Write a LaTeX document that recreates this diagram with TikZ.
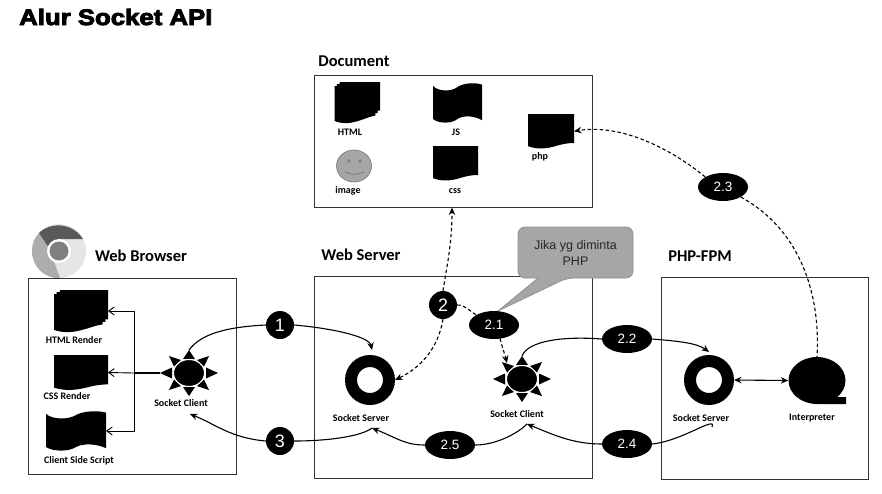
\documentclass[tikz,border=0pt]{standalone}
\usepackage{fontspec}
\setmainfont{Carlito}
\newfontfamily\titlef[FakeBold=4,FakeStretch=1.15]{Liberation Sans Bold}
\newfontfamily\ovalf{Liberation Sans}
\usetikzlibrary{shapes.geometric,arrows.meta,calc}
\definecolor{framec}{HTML}{333333}
\definecolor{calloutc}{HTML}{A6A6A6}
\definecolor{calloutb}{HTML}{8E8E8E}
\tikzset{
  framebox/.style={draw=framec,line width=1pt,fill=none},
  heading/.style={font=\fontsize{16.5}{18}\selectfont\bfseries,inner sep=0pt},
  iconlabel/.style={font=\fontsize{10}{11}\selectfont\bfseries,inner sep=0pt},
  badge/.style={circle,fill=black,text=white,minimum size=28pt,inner sep=0pt,font=\ovalf\fontsize{18}{20}\selectfont},
  oval/.style={ellipse,fill=black,text=white,minimum width=50pt,minimum height=28pt,inner sep=0pt,font=\ovalf\fontsize{13.5}{15}\selectfont},
  donut/.style={circle,draw=black,line width=12pt,fill=white,minimum size=38pt,inner sep=0pt},
  iconnode/.style={inner sep=0pt,outer sep=0pt},
  flow/.style={line width=1.1pt,-{Stealth[length=7.5pt,width=6.5pt]}},
  plainflow/.style={line width=1.1pt},
  dashflow/.style={line width=1.1pt,dash pattern=on 3.5pt off 2.5pt,-{Stealth[length=7.5pt,width=6.5pt]}},
  dashplain/.style={line width=1.1pt,dash pattern=on 3.5pt off 2.5pt},
  openflow/.style={line width=.9pt,-{Straight Barb[length=5.5pt,width=8pt]}},
}
% icon outlines, in a unit box
\newcommand{\docpath}{(0,0) -- (1,0) -- (1,.84) .. controls (.85,.84) and (.72,.88) .. (.6,.93) .. controls (.42,1) and (.2,1.04) .. (0,.93) -- cycle}
\newcommand{\stackpath}{(0,.1) -- (.05,.1) -- (.05,.05) -- (.11,.05) -- (.11,0) -- (1,0) -- (1,.7) -- (.95,.7) -- (.95,.76) -- (.9,.76) -- (.9,.82) .. controls (.8,.83) and (.72,.88) .. (.55,.94) .. controls (.38,1) and (.2,1.04) .. (0,.95) -- cycle}
\newcommand{\tapepath}{(0,.07) .. controls (.1,.22) and (.38,.22) .. (.5,.1) .. controls (.62,0) and (.85,-.02) .. (1,.04) -- (1,.93) .. controls (.85,.82) and (.62,.8) .. (.5,.9) .. controls (.38,1.02) and (.12,1.02) .. (0,.9) -- cycle}
% \iconat{name}{x1}{y1}{x2}{y2}{path}
\newcommand{\iconat}[6]{%
  \node[iconnode,minimum width={#4pt-#2pt},minimum height={#5pt-#3pt}] (#1) at ({(#2+#4)/2},{(#3+#5)/2}) {};
  \begin{scope}[shift={(#2,#3)},xscale=#4-#2,yscale=#5-#3]
    \fill[black] #6;
  \end{scope}}
% \sunat{name}{x}{y}
\newcommand{\sunat}[3]{%
  \begin{scope}[shift={(#2,#3)}]
    \fill[black] (-29,0) -- (-17,-5.5) -- (-17,5.5) -- cycle;
    \fill[black] (29,0) -- (17,-5.5) -- (17,5.5) -- cycle;
    \fill[black] (0,-23) -- (-6,-14) -- (6,-14) -- cycle;
    \fill[black] (0,23) -- (-6,14) -- (6,14) -- cycle;
    \fill[black] (-20,-17) -- (-8,-13) -- (-15,-6.5) -- cycle;
    \fill[black] (20,-17) -- (8,-13) -- (15,-6.5) -- cycle;
    \fill[black] (-20,17) -- (-8,13) -- (-15,6.5) -- cycle;
    \fill[black] (20,17) -- (8,13) -- (15,6.5) -- cycle;
  \end{scope}
  \node[ellipse,fill=black,draw=white,line width=1pt,minimum width=31pt,minimum height=27pt,inner sep=0pt] (#1) at (#2,#3) {};
  \coordinate (#1-top) at (#2,#3-23);
  \coordinate (#1-left) at (#2-29,#3);}
\begin{document}
\begin{tikzpicture}[x=1pt,y=-1pt]
\useasboundingbox (0,0) rectangle (882,493);
\fill[white] (0,0) rectangle (882,493);

\node[anchor=west,inner sep=0pt,font=\titlef\fontsize{22.4}{24}\selectfont] (title) at (19,17) {Alur Socket API};

% frames
\node[framebox,minimum width=278pt,minimum height=132pt,inner sep=0pt] (docbox) at (453,141) {};
\node[framebox,minimum width=208pt,minimum height=196pt,inner sep=0pt] (browserbox) at (132,376) {};
\node[framebox,minimum width=278pt,minimum height=202pt,inner sep=0pt] (serverbox) at (453,377) {};
\node[framebox,minimum width=207pt,minimum height=202pt,inner sep=0pt] (fpmbox) at (764.5,378) {};

% headings
\node[heading] (hdoc) at (354,61) {Document};
\node[heading] (hbrowser) at (141,256) {Web Browser};
\node[heading] (hserver) at (361,255) {Web Server};
\node[heading] (hfpm) at (700,256) {PHP-FPM};

% chrome logo
\node[circle,minimum size=54pt,inner sep=0pt] (chrome) at (59,251) {};
\begin{scope}[shift={(59,251)}]
  \fill[black!10] (0,0) circle (27);
  % left, mid grey sector
  \fill[black!32] (-20,-18) -- (-8,2) -- (1,27) .. controls (-14,28) and (-27,16) .. (-27,0) .. controls (-27,-7) and (-25,-13) .. (-20,-18) -- cycle;
  % top, dark sector
  \fill[black!65] (-20,-18) .. controls (-9,-29) and (13,-29) .. (24,-12) -- (0,-12) -- (-10,-6) -- (-7,2) -- cycle;
  % lower right boundary
  \fill[black!10] (0,0) -- (12,0) -- (24,-12) -- (27,0) -- (1,27) -- cycle;
  \fill[white] (0,0) circle (12);
  \fill[black!50] (0,0) circle (9.5);
\end{scope}

% document icons
\iconat{dhtml}{334.5}{82}{380}{123}{\stackpath}
\iconat{djs}{433}{83}{482}{123}{\tapepath}
\iconat{dphp}{528}{114}{574}{148.5}{\docpath}
\iconat{dcss}{433}{146}{478}{180.5}{\docpath}
\node[ellipse,draw=black!55,fill=black!35,line width=.6pt,minimum width=35pt,minimum height=32pt,inner sep=0pt] (dimage) at (354,166) {};
\fill[black!50] (349,161) circle (1.8) (360,161) circle (1.8);
\draw[black!55,line width=.7pt] (345,172) .. controls (350,175) and (358,175) .. (364,172);
\node[iconlabel] (lhtml) at (350,132) {HTML};
\node[iconlabel] (ljs) at (456,132) {JS};
\node[iconlabel] (lphp) at (540,157) {php};
\node[iconlabel] (limage) at (348,191) {image};
\node[iconlabel] (lcss) at (455,191) {css};

% browser icons
\iconat{bhtml}{54}{290}{108}{332}{\stackpath}
\iconat{bcss}{54}{355}{108}{390}{\docpath}
\iconat{bjs}{46}{411}{106}{451}{\tapepath}
\node[iconlabel] (lbhtml) at (74,340) {HTML Render};
\node[iconlabel] (lbcss) at (67,396) {CSS Render};
\node[iconlabel] (lbjs) at (79,461) {Client Side Script};

\sunat{bsun}{189}{373}
\node[iconlabel] (lbsun) at (181,403) {Socket Client};
\coordinate (branch) at (134,373);
\coordinate (bsunbelow) at (190,414);
\draw[line width=1.6pt] (bsun-left) -- (branch);
\draw[openflow] (branch) -- (bcss.east);
\draw[openflow] (branch) |- (bhtml.east);
\draw[openflow] (branch) |- (bjs.east);

% web server icons
\node[donut] (wdonut) at (370,380) {};
\node[iconlabel] (lwdonut) at (361,418) {Socket Server};
\sunat{wsun}{522}{379}
\node[iconlabel] (lwsun) at (517,414) {Socket Client};

% PHP-FPM icons
\node[donut] (pdonut) at (709,380) {};
\node[iconlabel] (lpdonut) at (701,418) {Socket Server};
\node[ellipse,fill=black,minimum width=57pt,minimum height=47pt,inner sep=0pt] (interp) at (817,380.5) {};
\fill[black] (817,404) -- (846,404) -- (846,397) -- (835,397) -- (825,385) -- cycle;
\coordinate (interptop) at (817,357);
\node[iconlabel] (linterp) at (812,418) {Interpreter};

% callout
\path[fill=calloutc,draw=calloutb,line width=.7pt,rounded corners=7pt]
  (518,227) -- (633,227) -- (633,278) -- (567,278) [sharp corners] -- (498,311) -- (538,278) [rounded corners=7pt] -- (518,278) -- cycle;
\node[font=\ovalf\fontsize{12.5}{16}\selectfont,align=center,text=black!85,inner sep=0pt] (calltext) at (575.5,253) {Jika yg diminta\\PHP};

% badges
\node[badge] (n1) at (280,325) {1};
\node[badge] (n2) at (443,305) {2};
\node[badge] (n3) at (280,441) {3};
\node[oval] (n21) at (494,325) {2.1};
\node[oval] (n22) at (627,339) {2.2};
\node[oval] (n23) at (723,187) {2.3};
\node[oval] (n24) at (627,444) {2.4};
\node[oval] (n25) at (450,445) {2.5};

% anchor points
\coordinate (wlabtop) at (372,428);
\coordinate (slabtop) at (527,424);
\coordinate (plabtop) at (712,427);
\coordinate (docin) at (452,207.5);
\coordinate (sunin) at (507,363);
\coordinate (n21out) at (500,338.5);

% solid connectors
\draw[plainflow] (n1.west) .. controls +(-40,2) and +(12,-16) .. (bsun-top);
\draw[flow] (n1.east) .. controls +(35,3) and +(-3,-14) .. ($(wdonut.north)+(2,-5)$);
\draw[flow] (n3.west) .. controls +(-35,-3) and +(25,10) .. (bsunbelow);
\draw[plainflow] (n3.east) .. controls +(35,0) and +(-10,8) .. (wlabtop);
\draw[flow] (n25.west) .. controls +(-20,0) and +(25,10) .. (wlabtop);
\draw[plainflow] (n25.east) .. controls +(20,0) and +(-10,10) .. (slabtop);
\draw[flow] (n24.west) .. controls +(-30,0) and +(25,10) .. (slabtop);
\draw[plainflow] (wsun-top) .. controls +(6,-15) and +(-40,-3) .. (n22.west);
\draw[flow] (n22.east) .. controls +(25,2) and +(-12,-9) .. ($(pdonut.north)+(0,-3)$);
\draw[plainflow] (n24.east) .. controls +(30,-3) and +(5,-12) .. (plabtop);
\draw[line width=1.1pt,{Stealth[length=7.5pt,width=6.5pt]}-{Stealth[length=7.5pt,width=6.5pt]}] (pdonut.east) -- (interp.west);

% dashed connectors
\draw[dashflow] (n2.north) .. controls +(4,-25) and +(0,35) .. (docin);
\draw[dashflow] (n2.south) .. controls +(-5,30) and +(25,-12) .. (wdonut.east);
\draw[dashplain] (n2.east) .. controls +(8,0) and +(-8,-5) .. (n21.north west);
\draw[dashflow] (n21out) .. controls +(2,8) and +(-2,-8) .. (sunin);
\draw[dashflow] (n23.north west) .. controls +(-30,-25) and +(50,-8) .. (dphp.east);
\draw[dashplain] (n23.south east) .. controls +(55,30) and +(4,-70) .. (interptop);
\end{tikzpicture}
\end{document}
